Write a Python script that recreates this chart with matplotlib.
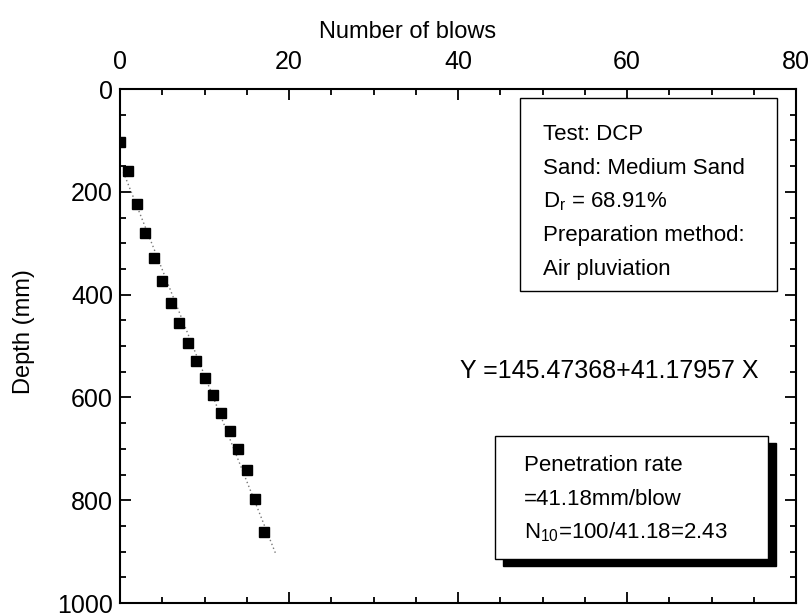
import matplotlib
matplotlib.use("Agg")
import matplotlib.pyplot as plt
from matplotlib.patches import Rectangle
from matplotlib.ticker import MultipleLocator
import numpy as np

plt.rcParams['font.family'] = ['Liberation Sans', 'DejaVu Sans']
plt.rcParams['mathtext.fontset'] = 'custom'
plt.rcParams['mathtext.rm'] = 'Liberation Sans'

# DCP test readings: cumulative blows vs. penetration depth
blows = [0, 1, 2, 3, 4, 5, 6, 7, 8, 9, 10, 11, 12, 13, 14, 15, 16, 17]
depth_mm = [104, 159, 223, 280, 329, 374, 416, 456, 494, 529,
            563, 596, 630, 665, 700, 742, 798, 862]

# linear fit reported on the chart
fit_a = 145.47368
fit_b = 41.17957
fit_range = [0.4, 18.5]

info_lines = ["Test: DCP", "Sand: Medium Sand", r"D$_{\mathregular{r}}$ = 68.91%",
              "Preparation method:", "Air pluviation"]
rate_lines = ["Penetration rate", "=41.18mm/blow", r"N$_{\mathregular{10}}$=100/41.18=2.43"]
eq_text = "Y =145.47368+41.17957 X"

fig = plt.figure(figsize=(8.12, 6.16), dpi=100)
ax = fig.add_axes([0.1478, 0.0211, 0.8325, 0.8344])

xf = np.array(fit_range)
ax.plot(xf, fit_a + fit_b * xf, ls=(0, (1, 2)), color='#777777', lw=1.0, zorder=2)
ax.plot(blows, depth_mm, 's', color='black', ms=6.8, zorder=3)

ax.set_xlim(0, 80)
ax.set_ylim(1000, 0)
ax.xaxis.set_major_locator(MultipleLocator(20))
ax.xaxis.set_minor_locator(MultipleLocator(5))
ax.yaxis.set_major_locator(MultipleLocator(200))
ax.yaxis.set_minor_locator(MultipleLocator(50))

ax.tick_params(which='both', direction='in', top=True, right=True, bottom=True, left=True,
               labeltop=True, labelbottom=False, width=1.3)
ax.tick_params(which='major', length=8, labelsize=18)
ax.tick_params(which='minor', length=4)
ax.tick_params(axis='x', which='major', pad=11)
ax.tick_params(axis='y', which='major', pad=5)
for s in ax.spines.values():
    s.set_linewidth(1.5)

ax.xaxis.set_label_position('top')
ax.set_xlabel("Number of blows", fontsize=17)
ax.xaxis.set_label_coords(0.426, 1.099)
ax.set_ylabel("Depth (mm)", fontsize=17)
ax.yaxis.set_label_coords(-0.126, 0.528)

# info box (top right)
ax.add_patch(Rectangle((0.592, 0.6074), 0.380, 0.3752, transform=ax.transAxes,
                       facecolor='white', edgecolor='black', lw=1.0, zorder=4))
for i, line in enumerate(info_lines):
    ax.text(0.626, 0.9 - i * 0.0655, line, transform=ax.transAxes, fontsize=16,
            va='baseline', ha='left', zorder=5)

ax.text(0.503, 0.437, eq_text, transform=ax.transAxes, fontsize=18, va='baseline', ha='left')

# penetration rate box with drop shadow
ax.add_patch(Rectangle((0.5547 + 0.0125, 0.0851 - 0.0135), 0.4039, 0.2399,
                       transform=ax.transAxes, facecolor='black', edgecolor='black',
                       lw=1.0, zorder=4))
ax.add_patch(Rectangle((0.5547, 0.0851), 0.4039, 0.2399, transform=ax.transAxes,
                       facecolor='white', edgecolor='black', lw=1.0, zorder=5))
for i, line in enumerate(rate_lines):
    ax.text(0.597, 0.2573 - i * 0.066, line, transform=ax.transAxes, fontsize=16,
            va='baseline', ha='left', zorder=6)

fig.savefig("out.png", dpi=100)
